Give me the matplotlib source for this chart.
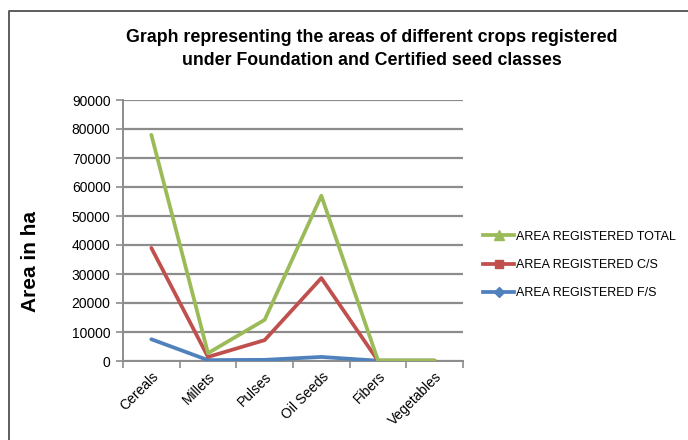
import matplotlib
matplotlib.use("Agg")
import matplotlib.pyplot as plt
from matplotlib.lines import Line2D

plt.rcParams['font.family'] = ['Liberation Sans', 'DejaVu Sans']

categories = ["Cereals", "Millets", "Pulses", "Oil Seeds", "Fibers", "Vegetables"]
area_total = [78000, 2700, 14200, 57000, 200, 200]
area_cs = [39000, 1400, 7200, 28600, 100, 100]
area_fs = [7500, 300, 400, 1400, 100, 100]
yticks = [0, 10000, 20000, 30000, 40000, 50000, 60000, 70000, 80000, 90000]

W, H = 688, 440
fig = plt.figure(figsize=(6.88, 4.40), dpi=100)
# partial frame (left and top edges)
fig.add_artist(Line2D([8.5/W, 8.5/W, 1.0], [0.0, 1-11/H, 1-11/H], transform=fig.transFigure,
                      color='#505050', lw=1.3))
ax = fig.add_axes([123/W, 1-361/H, (463-123)/W, (361-100)/H])

x = list(range(len(categories)))
green, red, blue = '#9BBB59', '#C0504D', '#4F81BD'
ax.plot(x, area_fs, color=blue, lw=2.7, solid_capstyle='round', zorder=3)
ax.plot(x, area_cs, color=red, lw=2.7, solid_capstyle='round', zorder=4)
ax.plot(x, area_total, color=green, lw=2.7, solid_capstyle='round', zorder=5)

ax.set_xlim(-0.5, len(categories) - 0.5)
ax.set_ylim(0, 90000)
ax.set_yticks(yticks)
ax.set_yticklabels([str(v) for v in yticks], fontsize=10)
ax.yaxis.grid(True, color='#8c8c8c', lw=1.6)
ax.set_axisbelow(True)
ax.set_xticks([i - 0.5 for i in range(len(categories) + 1)])
ax.set_xticklabels([])
ax.set_xticks(x, minor=True)
ax.set_xticklabels(categories, minor=True, rotation=45, ha='right', va='top',
                   rotation_mode='anchor', fontsize=10)
ax.tick_params(axis='x', which='minor', length=0, pad=6)
ax.tick_params(axis='x', which='major', length=5, color='#8c8c8c', width=1.2)
ax.tick_params(axis='y', length=5, color='#8c8c8c', width=1.2, pad=4)
for s in ['top', 'right']:
    ax.spines[s].set_visible(False)
for s in ['left', 'bottom']:
    ax.spines[s].set_color('#8c8c8c')
    ax.spines[s].set_linewidth(1.4)

fig.text(372/W, 1-49/H,
         "Graph representing the areas of different crops registered\nunder Foundation and Certified seed classes",
         ha='center', va='center', fontsize=12.8, fontweight='bold', linespacing=1.45)
fig.text(31/W, 1-262/H, "Area in ha", rotation=90, ha='center', va='center',
         fontsize=15, fontweight='bold')

handles = [
    Line2D([], [], color=green, lw=2.7, marker='^', markersize=7),
    Line2D([], [], color=red, lw=2.7, marker='s', markersize=6),
    Line2D([], [], color=blue, lw=2.7, marker='D', markersize=5),
]
labels = ["AREA REGISTERED TOTAL", "AREA REGISTERED C/S", "AREA REGISTERED F/S"]
fig.legend(handles, labels, loc='center left', bbox_to_anchor=(483/W, 1-265/H),
           frameon=False, fontsize=9, handlelength=2.5, handletextpad=0.1,
           labelspacing=1.3, borderaxespad=0, borderpad=0)

fig.savefig("out.png", dpi=100)
